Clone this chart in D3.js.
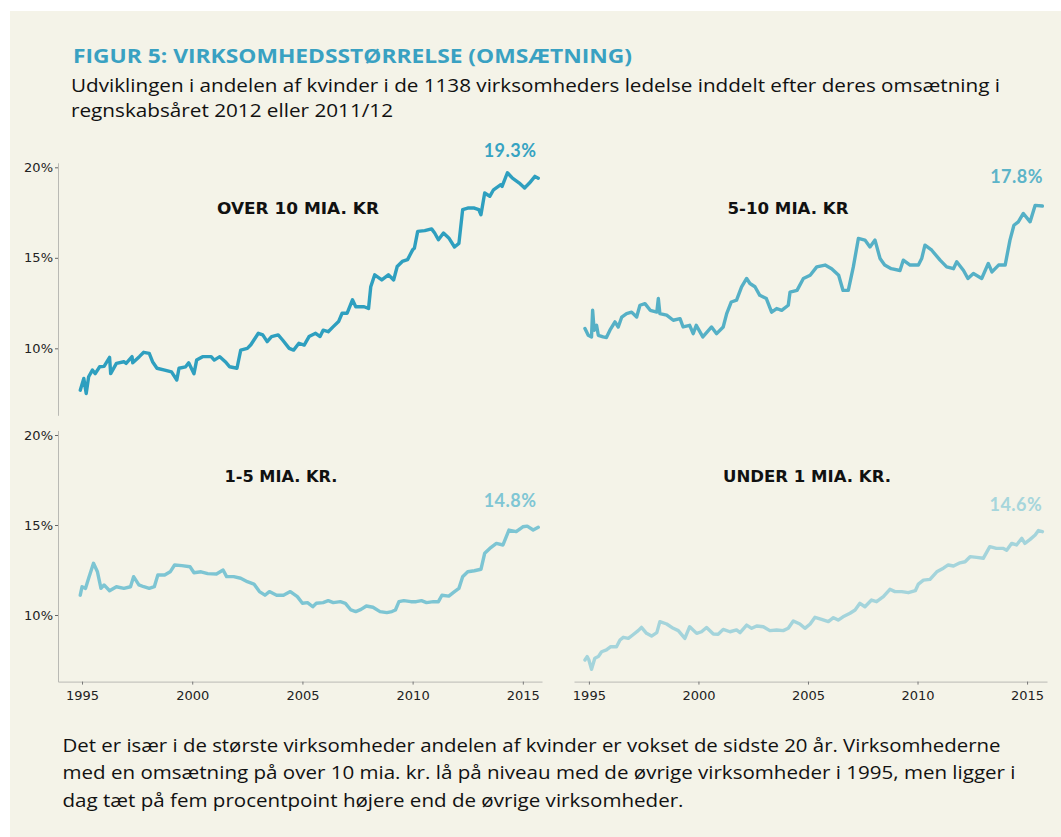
<!DOCTYPE html>
<html>
<head>
<meta charset="utf-8">
<script src="https://cdn.jsdelivr.net/npm/d3@7"></script>
<style>
  body { margin: 0; background: #fff; }
  svg { display: block; }
</style>
</head>
<body>
<svg id="chart" width="1061" height="837"></svg>
<script>
// [year, share of women in %]
const over10 = [
  [1994.92, 7.69], [1995.08, 8.34], [1995.19, 7.5], [1995.3, 8.43], [1995.47, 8.8], [1995.6, 8.6],
  [1995.8, 8.98], [1996.0, 9.0], [1996.25, 9.5], [1996.3, 8.6], [1996.56, 9.17], [1996.9, 9.26],
  [1997.0, 9.17], [1997.27, 9.54], [1997.3, 9.2], [1997.6, 9.54], [1997.8, 9.78], [1998.05, 9.72],
  [1998.2, 9.26], [1998.4, 8.9], [1998.75, 8.8], [1999.06, 8.7], [1999.3, 8.25], [1999.4, 8.9],
  [1999.7, 8.98], [1999.84, 9.2], [2000.08, 8.6], [2000.2, 9.35], [2000.47, 9.54], [2000.86, 9.54],
  [2001.0, 9.35], [2001.25, 9.54], [2001.5, 9.26], [2001.7, 8.98], [2002.03, 8.9], [2002.2, 9.9],
  [2002.5, 10.0], [2002.66, 10.2], [2002.8, 10.46], [2003.0, 10.83], [2003.2, 10.74], [2003.4, 10.37],
  [2003.6, 10.65], [2003.9, 10.74], [2004.1, 10.46], [2004.4, 10.0], [2004.6, 9.9], [2004.84, 10.28],
  [2005.08, 10.18], [2005.3, 10.65], [2005.6, 10.83], [2005.8, 10.65], [2005.94, 11.0], [2006.17, 10.92],
  [2006.4, 11.2], [2006.64, 11.48], [2006.8, 11.94], [2007.03, 11.94], [2007.27, 12.68], [2007.42, 12.3],
  [2007.8, 12.3], [2008.0, 12.2], [2008.1, 13.4], [2008.28, 14.06], [2008.6, 13.78], [2008.9, 14.06],
  [2009.14, 13.78], [2009.3, 14.52], [2009.53, 14.8], [2009.77, 14.9], [2010.0, 15.44], [2010.08, 15.53],
  [2010.23, 16.46], [2010.55, 16.5], [2010.86, 16.6], [2011.0, 16.37], [2011.17, 16.0], [2011.4, 16.37],
  [2011.64, 16.1], [2011.9, 15.6], [2012.1, 15.8], [2012.27, 17.66], [2012.5, 17.75], [2012.8, 17.75],
  [2013.0, 17.66], [2013.1, 17.38], [2013.27, 18.58], [2013.5, 18.4], [2013.67, 18.76], [2014.0, 19.04],
  [2014.06, 18.95], [2014.3, 19.7], [2014.53, 19.4], [2014.84, 19.13], [2015.08, 18.86], [2015.3, 19.13],
  [2015.55, 19.5], [2015.7, 19.4]
];

const mid5to10 = [
  [1994.82, 11.09], [1994.97, 10.72], [1995.12, 10.63], [1995.17, 12.1], [1995.24, 11.0], [1995.35, 11.27],
  [1995.43, 10.72], [1995.65, 10.63], [1995.8, 10.6], [1995.96, 11.0], [1996.19, 11.46], [1996.34, 11.18],
  [1996.5, 11.73], [1996.72, 11.92], [1996.95, 12.0], [1997.18, 11.73], [1997.33, 12.38], [1997.56, 12.47],
  [1997.8, 12.1], [1998.1, 12.0], [1998.17, 12.75], [1998.24, 11.92], [1998.55, 11.83], [1998.85, 11.55],
  [1999.16, 11.64], [1999.3, 11.18], [1999.6, 11.27], [1999.76, 10.81], [1999.9, 11.27], [2000.2, 10.63],
  [2000.6, 11.18], [2000.83, 10.81], [2001.13, 11.18], [2001.29, 11.92], [2001.5, 12.56], [2001.74, 12.66],
  [2001.97, 13.4], [2002.2, 13.86], [2002.35, 13.58], [2002.58, 13.4], [2002.8, 12.93], [2003.1, 12.75],
  [2003.34, 12.0], [2003.57, 12.2], [2003.8, 12.1], [2004.1, 12.38], [2004.18, 13.1], [2004.5, 13.2],
  [2004.79, 13.86], [2005.1, 14.04], [2005.4, 14.5], [2005.78, 14.6], [2006.08, 14.4], [2006.4, 14.04],
  [2006.6, 13.2], [2006.84, 13.2], [2007.07, 14.5], [2007.3, 16.07], [2007.6, 15.98], [2007.83, 15.6],
  [2008.06, 15.98], [2008.29, 14.96], [2008.5, 14.6], [2008.8, 14.4], [2009.2, 14.3], [2009.35, 14.87],
  [2009.66, 14.6], [2010.04, 14.6], [2010.19, 14.96], [2010.34, 15.7], [2010.65, 15.42], [2011.03, 14.87],
  [2011.33, 14.5], [2011.64, 14.4], [2011.79, 14.78], [2012.1, 14.3], [2012.3, 13.86], [2012.55, 14.13],
  [2012.93, 13.86], [2013.23, 14.69], [2013.4, 14.22], [2013.7, 14.6], [2014.0, 14.6], [2014.22, 15.98],
  [2014.4, 16.8], [2014.6, 16.99], [2014.83, 17.45], [2015.14, 16.99], [2015.37, 17.9], [2015.7, 17.86]
];

const mid1to5 = [
  [1994.92, 11.1], [1995.0, 11.57], [1995.16, 11.48], [1995.3, 12.04], [1995.52, 12.87], [1995.7, 12.4],
  [1995.86, 11.48], [1996.0, 11.67], [1996.25, 11.35], [1996.56, 11.57], [1996.9, 11.48], [1997.2, 11.57],
  [1997.34, 12.13], [1997.58, 11.67], [1997.8, 11.57], [1998.05, 11.48], [1998.28, 11.57], [1998.44, 12.22],
  [1998.75, 12.22], [1999.0, 12.4], [1999.2, 12.78], [1999.53, 12.74], [1999.9, 12.68], [2000.08, 12.35],
  [2000.4, 12.4], [2000.7, 12.3], [2001.1, 12.28], [2001.4, 12.5], [2001.56, 12.13], [2001.88, 12.13],
  [2002.2, 12.04], [2002.5, 11.85], [2002.8, 11.72], [2003.05, 11.3], [2003.3, 11.1], [2003.5, 11.3],
  [2003.83, 11.1], [2004.14, 11.1], [2004.45, 11.3], [2004.77, 11.02], [2005.0, 10.65], [2005.23, 10.69],
  [2005.47, 10.46], [2005.63, 10.65], [2005.94, 10.69], [2006.17, 10.8], [2006.4, 10.69], [2006.72, 10.74],
  [2006.95, 10.65], [2007.2, 10.28], [2007.42, 10.19], [2007.66, 10.31], [2007.9, 10.5], [2008.2, 10.43],
  [2008.52, 10.19], [2008.83, 10.13], [2009.06, 10.19], [2009.22, 10.28], [2009.38, 10.74], [2009.6, 10.8],
  [2009.92, 10.74], [2010.16, 10.74], [2010.4, 10.8], [2010.63, 10.69], [2010.94, 10.74], [2011.17, 10.74],
  [2011.33, 11.1], [2011.64, 11.05], [2011.9, 11.3], [2012.1, 11.48], [2012.27, 12.13], [2012.5, 12.4],
  [2012.8, 12.46], [2013.1, 12.54], [2013.27, 13.43], [2013.5, 13.7], [2013.8, 13.98], [2014.1, 13.89],
  [2014.37, 14.72], [2014.7, 14.63], [2015.0, 14.9], [2015.2, 14.94], [2015.47, 14.72], [2015.7, 14.87]
];

const under1 = [
  [1994.82, 7.5], [1994.92, 7.69], [1995.0, 7.5], [1995.12, 6.98], [1995.27, 7.6], [1995.43, 7.69],
  [1995.58, 7.96], [1995.8, 8.06], [1996.0, 8.24], [1996.26, 8.24], [1996.42, 8.61], [1996.57, 8.76],
  [1996.8, 8.7], [1997.0, 8.89], [1997.25, 9.13], [1997.4, 9.31], [1997.63, 8.98], [1997.86, 8.83],
  [1998.1, 9.02], [1998.24, 9.63], [1998.55, 9.5], [1998.85, 9.26], [1999.08, 9.13], [1999.38, 8.7],
  [1999.6, 9.35], [1999.92, 8.98], [2000.14, 9.07], [2000.37, 9.31], [2000.68, 8.94], [2000.9, 8.93],
  [2001.13, 9.2], [2001.44, 9.07], [2001.74, 9.17], [2001.9, 9.02], [2002.2, 9.44], [2002.43, 9.26],
  [2002.66, 9.39], [2002.96, 9.35], [2003.26, 9.13], [2003.57, 9.17], [2003.87, 9.13], [2004.1, 9.26],
  [2004.33, 9.67], [2004.63, 9.5], [2004.86, 9.26], [2005.1, 9.5], [2005.32, 9.87], [2005.62, 9.76],
  [2005.93, 9.63], [2006.16, 9.85], [2006.38, 9.72], [2006.6, 9.9], [2006.92, 10.1], [2007.15, 10.28],
  [2007.37, 10.65], [2007.6, 10.46], [2007.9, 10.83], [2008.13, 10.74], [2008.44, 11.02], [2008.74, 11.43],
  [2008.97, 11.3], [2009.28, 11.3], [2009.58, 11.24], [2009.9, 11.35], [2010.04, 11.72], [2010.27, 11.94],
  [2010.57, 11.98], [2010.88, 12.4], [2011.18, 12.6], [2011.4, 12.78], [2011.64, 12.72], [2011.94, 12.9],
  [2012.17, 12.96], [2012.4, 13.24], [2012.7, 13.2], [2013.0, 13.15], [2013.3, 13.8], [2013.6, 13.7],
  [2013.92, 13.7], [2014.07, 13.6], [2014.3, 13.98], [2014.52, 13.89], [2014.76, 14.26], [2014.9, 13.98],
  [2015.14, 14.2], [2015.37, 14.44], [2015.52, 14.69], [2015.7, 14.63]
];

const panelTitles = ['OVER 10 MIA. KR', '5-10 MIA. KR', '1-5 MIA. KR.', 'UNDER 1 MIA. KR.'];
const endLabels = ['19.3%', '17.8%', '14.8%', '14.6%'];
const yTicks = [10, 15, 20];
const xTicks = [1995, 2000, 2005, 2010, 2015];

const titleText = 'FIGUR 5: VIRKSOMHEDSSTØRRELSE (OMSÆTNING)';
const subtitleLines = [
  'Udviklingen i andelen af kvinder i de 1138 virksomheders ledelse inddelt efter deres omsætning i',
  'regnskabsåret 2012 eller 2011/12'
];
const noteLines = [
  'Det er især i de største virksomheder andelen af kvinder er vokset de sidste 20 år. Virksomhederne',
  'med en omsætning på over 10 mia. kr. lå på niveau med de øvrige virksomheder i 1995, men ligger i',
  'dag tæt på fem procentpoint højere end de øvrige virksomheder.'
];

(function() {

  let svg = d3.select('#chart');

  // cream page, white strip left and top
  svg.append('rect')
    .attr('x', 10).attr('y', 11)
    .attr('width', 1051).attr('height', 826)
    .attr('fill', '#f4f3e8');

  // heading
  svg.append('text')
    .attr('x', 73).attr('y', 62.7)
    .attr('font-family', 'Open Sans')
    .attr('font-weight', 700)
    .attr('font-size', '19px')
    .attr('fill', '#39a1c2')
    .attr('textLength', 559)
    .attr('lengthAdjust', 'spacingAndGlyphs')
    .text(titleText);

  let subLens = [929, 322];
  subtitleLines.forEach((line, i) => {
    svg.append('text')
      .attr('x', 71).attr('y', 92.3 + i * 25)
      .attr('font-family', 'Open Sans')
      .attr('font-size', '18px')
      .attr('fill', '#111')
      .attr('textLength', subLens[i])
      .attr('lengthAdjust', 'spacingAndGlyphs')
      .text(line);
  });

  let noteLens = [938, 953, 621];
  noteLines.forEach((line, i) => {
    svg.append('text')
      .attr('x', 62.5).attr('y', 751.7 + i * 27.7)
      .attr('font-family', 'Open Sans')
      .attr('font-size', '19px')
      .attr('fill', '#111')
      .attr('textLength', noteLens[i])
      .attr('lengthAdjust', 'spacingAndGlyphs')
      .text(line);
  });

  // one entry per small multiple
  let panels = [
    { data: over10,   x: [1993.91, 2015.87], xr: [58, 542],   yr: [415.3, 162.8], color: '#2e9fbf', labelColor: '#36a3c2',
      yAxis: true,  xAxis: false, titleX: 298, titleY: 214,   titleLen: 162, labelX: 536.5, labelY: 156.7 },
    { data: mid5to10, x: [1994.32, 2015.91], xr: [574, 1047], yr: [415.3, 162.8], color: '#55b0c6', labelColor: '#5cb4c8',
      yAxis: false, xAxis: false, titleX: 788, titleY: 214,   titleLen: 121, labelX: 1043,  labelY: 183.3 },
    { data: mid1to5,  x: [1993.91, 2015.87], xr: [58, 542],   yr: [681.6, 430.5], color: '#7dc5d3', labelColor: '#7fc6d4',
      yAxis: true,  xAxis: true,  titleX: 281, titleY: 481.7, titleLen: 113, labelX: 536.5, labelY: 507.3 },
    { data: under1,   x: [1994.32, 2015.91], xr: [574, 1047], yr: [681.6, 430.5], color: '#a4d4db', labelColor: '#a6d6dc',
      yAxis: false, xAxis: true,  titleX: 807, titleY: 481.7, titleLen: 168, labelX: 1042.3, labelY: 510.7 }
  ];

  panels.forEach((p, i) => {
    let xScale = d3.scaleLinear().domain(p.x).range(p.xr);
    let yScale = d3.scaleLinear().domain([6.3, 20.25]).range(p.yr);
    let g = svg.append('g');

    if (p.yAxis) {
      let ax = g.append('g')
        .attr('transform', `translate(${p.xr[0]}, 0)`)
        .call(d3.axisLeft(yScale)
          .tickValues(yTicks)
          .tickSize(3)
          .tickSizeOuter(0)
          .tickPadding(2)
          .tickFormat((d) => d + '%'));
      ax.select('.domain').attr('stroke', '#b9b9b4');
      ax.selectAll('.tick line').attr('stroke', '#666');
      ax.selectAll('.tick text')
        .attr('font-family', 'DejaVu Sans')
        .attr('font-size', '13px')
        .attr('fill', '#222');
    }

    if (p.xAxis) {
      let ax = g.append('g')
        .attr('transform', `translate(0, ${p.yr[0]})`)
        .call(d3.axisBottom(xScale)
          .tickValues(xTicks)
          .tickSize(3)
          .tickSizeOuter(0)
          .tickPadding(6)
          .tickFormat(d3.format('d')));
      ax.select('.domain').attr('stroke', '#b9b9b4');
      ax.selectAll('.tick line').attr('stroke', '#777');
      ax.selectAll('.tick text')
        .attr('font-family', 'DejaVu Sans')
        .attr('font-size', '13px')
        .attr('fill', '#222');
    }

    let line = d3.line()
      .x((d) => xScale(d[0]))
      .y((d) => yScale(d[1]));

    g.append('path')
      .datum(p.data)
      .attr('fill', 'none')
      .attr('stroke', p.color)
      .attr('stroke-width', 3.4)
      .attr('stroke-linejoin', 'round')
      .attr('stroke-linecap', 'round')
      .attr('d', line);

    g.append('text')
      .attr('x', p.titleX).attr('y', p.titleY)
      .attr('text-anchor', 'middle')
      .attr('font-family', 'DejaVu Sans')
      .attr('font-weight', 700)
      .attr('font-size', '15.5px')
      .attr('fill', '#111')
      .attr('textLength', p.titleLen)
      .attr('lengthAdjust', 'spacingAndGlyphs')
      .text(panelTitles[i]);

    g.append('text')
      .attr('x', p.labelX).attr('y', p.labelY)
      .attr('text-anchor', 'end')
      .attr('font-family', 'Lato')
      .attr('font-weight', 700)
      .attr('font-size', '18px')
      .attr('letter-spacing', '0.5px')
      .attr('fill', p.labelColor)
      .text(endLabels[i]);
  });

})();
</script>
</body>
</html>
